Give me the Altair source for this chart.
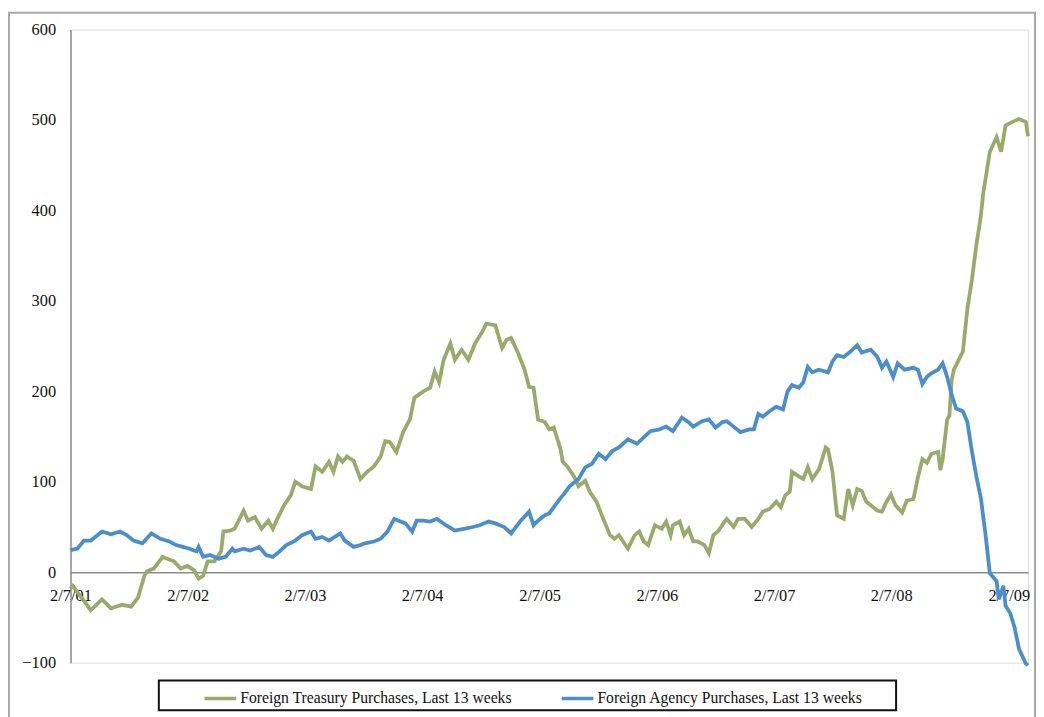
import altair as alt
import pandas as pd

# ---- data (x = weeks since 2/7/01, y = value) ----
treasury_weeks = [0, 1, 4, 9, 14, 18, 23, 27, 30, 33, 34, 37, 41, 43, 46, 49, 52, 55, 57, 59,
                  61, 64, 67, 68, 71, 73, 77, 79, 82, 85, 88, 90, 92, 95, 98, 100, 103, 107, 109, 112,
                  115, 117, 119, 121, 123, 126, 129, 132, 135, 138, 140, 142, 145, 148, 151, 153, 157, 160, 162, 164,
                  166, 169, 171, 174, 177, 180, 183, 185, 189, 192, 194, 196, 199, 202, 204, 206, 208, 211, 213, 215,
                  218, 219, 221, 224, 226, 229, 231, 234, 237, 240, 242, 244, 248, 251, 253, 255, 257, 260, 263, 265,
                  267, 268, 271, 273, 275, 277, 279, 282, 284, 286, 288, 291, 292, 295, 297, 300, 303, 306, 308, 311,
                  314, 316, 318, 320, 321, 324, 326, 328, 330, 333, 336, 337, 339, 341, 344, 346, 348, 350, 352, 354,
                  356, 359, 361, 363, 365, 367, 370, 372, 375, 377, 379, 381, 383, 386, 387, 388, 390, 391, 392, 393,
                  394, 397, 399, 401, 403, 405, 406, 409, 412, 414, 416, 419, 422, 425, 426]
treasury_values = [-18, -15, -25, -42, -30, -40, -36, -38, -28, -3, 1, 4, 17, 15, 12, 4, 7, 2, -7, -4,
                   12, 12, 23, 45, 46, 48, 68, 57, 61, 48, 57, 48, 59, 74, 85, 100, 95, 92, 117, 111,
                   122, 111, 128, 122, 128, 123, 103, 111, 117, 128, 145, 144, 133, 155, 169, 193, 200, 204, 222, 210,
                   235, 253, 235, 246, 235, 253, 265, 275, 273, 248, 257, 259, 243, 224, 205, 204, 169, 166, 158, 160,
                   136, 122, 117, 106, 95, 101, 89, 78, 59, 41, 37, 41, 26, 41, 45, 34, 30, 52, 48, 56,
                   41, 52, 56, 41, 48, 34, 34, 30, 21, 41, 45, 56, 59, 50, 59, 59, 50, 59, 67, 70,
                   78, 72, 85, 89, 111, 106, 103, 116, 103, 114, 138, 136, 111, 63, 59, 92, 74, 92, 90, 78,
                   74, 68, 67, 78, 86, 74, 66, 79, 81, 105, 125, 121, 131, 133, 113, 125, 169, 173, 212, 224,
                   229, 244, 291, 323, 362, 394, 418, 465, 481, 465, 494, 498, 501, 498, 482]

agency_weeks = [0, 1, 3, 6, 9, 14, 18, 22, 25, 28, 32, 36, 40, 44, 47, 50, 53, 56, 57, 59,
                62, 66, 69, 72, 73, 77, 80, 84, 87, 90, 93, 96, 100, 103, 107, 109, 112, 115, 120, 122,
                126, 129, 131, 135, 138, 141, 144, 146, 149, 152, 154, 157, 160, 163, 167, 171, 175, 179, 182, 186,
                189, 193, 196, 200, 204, 206, 208, 211, 213, 215, 218, 220, 222, 226, 229, 232, 235, 238, 241, 244,
                248, 252, 255, 258, 262, 265, 268, 272, 275, 277, 281, 284, 287, 290, 292, 295, 298, 302, 304, 306,
                308, 311, 314, 317, 319, 321, 324, 326, 328, 330, 333, 337, 339, 341, 344, 347, 350, 352, 356, 359,
                361, 363, 366, 368, 371, 375, 377, 379, 381, 383, 386, 388, 390, 392, 394, 397, 399, 401, 403, 405,
                407, 409, 412, 413, 415, 416, 418, 420, 422, 425, 426]
agency_values = [24, 25, 26, 35, 35, 45, 42, 45, 41, 35, 32, 43, 37, 34, 30, 28, 26, 23, 28, 17,
                 19, 15, 17, 26, 23, 26, 24, 28, 19, 17, 23, 30, 35, 41, 45, 37, 39, 35, 43, 35,
                 28, 30, 32, 34, 37, 45, 59, 57, 54, 45, 57, 57, 56, 59, 52, 46, 48, 50, 52, 56,
                 54, 50, 43, 56, 67, 52, 57, 63, 65, 72, 82, 88, 95, 103, 116, 120, 131, 125, 134, 138,
                 147, 142, 149, 156, 158, 161, 156, 171, 166, 161, 167, 169, 160, 166, 167, 161, 155, 158, 158, 175,
                 172, 178, 183, 180, 200, 207, 204, 210, 227, 221, 224, 221, 233, 240, 238, 244, 251, 243, 246, 238,
                 226, 233, 216, 231, 224, 226, 224, 208, 216, 220, 224, 231, 216, 196, 181, 178, 166, 134, 106, 82,
                 43, -1, -10, -30, -15, -37, -45, -61, -85, -101, -103]

series_names = ["Foreign Treasury Purchases, Last 13 weeks", "Foreign Agency Purchases, Last 13 weeks"]
series_colors = ["#9BAA6C", "#4A8FCB"]
y_ticks = [-100, 0, 100, 200, 300, 400, 500, 600]
x_tick_years = [2001, 2002, 2003, 2004, 2005, 2006, 2007, 2008, 2009]

start = pd.Timestamp("2001-02-07")
def make(weeks, values, name):
    d = pd.DataFrame({"week": weeks, "value": values})
    d["date"] = (start + pd.to_timedelta(d["week"] * 7, unit="D")).dt.strftime("%Y-%m-%dT%H:%M:%S")
    d["series"] = name
    return d

df = pd.concat([make(treasury_weeks, treasury_values, series_names[0]),
                make(agency_weeks, agency_values, series_names[1])], ignore_index=True)

FONT = "Liberation Serif"
W, H = 965, 638

lines = alt.Chart(df).mark_line(strokeWidth=3.8, clip=False).encode(
    x=alt.X("date:T",
            scale=alt.Scale(domain=[alt.DateTime(year=2001, month=2, date=7),
                                    alt.DateTime(year=2009, month=4, date=8)]),
            axis=alt.Axis(values=[alt.DateTime(year=y, month=2, date=7) for y in x_tick_years],
                          format="%-m/%-d/%y", title=None, ticks=False, tickSize=0,
                          labelPadding=15, offset=-91, grid=False,
                          domainColor="#8c8c8c", domainWidth=1.5,
                          labelFont=FONT, labelFontSize=16.5, labelColor="#111111",
                          labelFlush=False, labelOverlap=False)),
    y=alt.Y("value:Q", scale=alt.Scale(domain=[-100, 600], nice=False),
            axis=alt.Axis(values=y_ticks, title=None, ticks=False, tickSize=0, labelPadding=15,
                          grid=False, domainColor="#8c8c8c", domainWidth=1.5,
                          labelFont=FONT, labelFontSize=16.5, labelColor="#111111")),
    color=alt.Color("series:N",
                    scale=alt.Scale(domain=series_names, range=series_colors),
                    legend=alt.Legend(orient="none", legendX=133, legendY=656,
                                      direction="horizontal", title=None,
                                      symbolType="stroke", symbolSize=1024, symbolStrokeWidth=3.5,
                                      labelFont=FONT, labelFontSize=15.8, labelColor="#111111",
                                      labelLimit=500, columnPadding=42, labelOffset=2, padding=0)),
    detail="series:N",
    order="week:Q",
)

box_data = pd.DataFrame({"k": [0]})
outer = alt.Chart(box_data).mark_rect(fillOpacity=0, stroke="#a8a8a8", strokeWidth=2).encode(
    x=alt.value(-62), x2=alt.value(972), y=alt.value(-17), y2=alt.value(720))
legend_box = alt.Chart(box_data).mark_rect(fillOpacity=0, stroke="#111111", strokeWidth=2).encode(
    x=alt.value(89), x2=alt.value(832), y=alt.value(656), y2=alt.value(686))

chart = alt.layer(outer, legend_box, lines).properties(
    width=W, height=H,
    autosize=alt.AutoSizeParams(type="none"),
    padding={"left": 63, "top": 19, "right": 8, "bottom": 52},
).configure_view(stroke=None).configure(background="white")

chart.save("out.html", embed_options={"renderer": "svg", "actions": False})
